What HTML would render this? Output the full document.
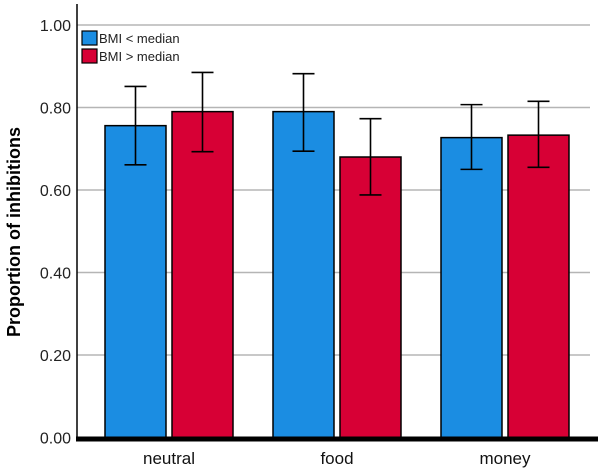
<!DOCTYPE html>
<html><head><meta charset="utf-8"><style>
body{margin:0;background:#fff;}
svg{display:block;font-family:"Liberation Sans",Arial,sans-serif;}
</style></head><body>
<svg id="chart" width="602" height="471">
<g id="grid"></g><g id="bars"></g><g id="axes"></g>
<g>
<rect x="82" y="31" width="15" height="14" fill="#1b8de2" stroke="#000" stroke-width="1.2"/>
<text x="99" y="43" font-size="13" fill="#222">BMI &lt; median</text>
<rect x="82" y="49" width="15" height="14" fill="#d70035" stroke="#000" stroke-width="1.2"/>
<text x="99" y="61" font-size="13" fill="#222">BMI &gt; median</text>
</g>
<text transform="translate(20,232) rotate(-90)" text-anchor="middle" font-size="18" font-weight="bold" fill="#000">Proportion of inhibitions</text>
</svg>
<script>
const categories=["neutral","food","money"];
const lowVals=[0.756,0.790,0.727];
const lowLo=[0.661,0.694,0.650];
const lowHi=[0.851,0.882,0.807];
const highVals=[0.790,0.680,0.733];
const highLo=[0.693,0.588,0.655];
const highHi=[0.885,0.773,0.815];
const ticks=[0,0.2,0.4,0.6,0.8,1.0];
const tickLabels=["0.00","0.20","0.40","0.60","0.80","1.00"];
const NS="http://www.w3.org/2000/svg";
const y0=437.5,pxPer=412.5,x0=77,x1=590,xEnd=598;
const yS=v=>y0-v*pxPer;
const xC=i=>169+168*i;
function mk(t,a,p){const e=document.createElementNS(NS,t);for(const k in a)e.setAttribute(k,a[k]);p.appendChild(e);return e;}
const grid=document.getElementById('grid'),bars=document.getElementById('bars'),axes=document.getElementById('axes');
ticks.forEach((t,i)=>{
 if(t>0){const l=mk('line',{x1:x0,x2:x1,y1:yS(t),y2:yS(t),stroke:'#b5b5b5','stroke-width':1.5},grid);
 
 }
 const tx=mk('text',{x:71,y:yS(t)+6,'text-anchor':'end','font-size':16,fill:'#222'},axes);
 tx.textContent=tickLabels[i];
 
 
});
const bw=61,gap=6;
categories.forEach((c,i)=>{
 const cx=xC(i);
 [[lowVals,lowLo,lowHi,'#1b8de2',cx-gap/2-bw,'low'],[highVals,highLo,highHi,'#d70035',cx+gap/2,'high']].forEach(s=>{
  const v=s[0][i];
  const r=mk('rect',{x:s[4],y:yS(v),width:bw,height:y0-yS(v),fill:s[3],stroke:'#000','stroke-width':1.5},bars);
  
  
  const mx=s[4]+bw/2;
  const g=mk('g',{stroke:'#000','stroke-width':1.6},bars);
  
  
  mk('line',{x1:mx,x2:mx,y1:yS(s[1][i]),y2:yS(s[2][i])},g);
  mk('line',{x1:mx-11,x2:mx+11,y1:yS(s[1][i]),y2:yS(s[1][i])},g);
  mk('line',{x1:mx-11,x2:mx+11,y1:yS(s[2][i]),y2:yS(s[2][i])},g);
 });
 const t=mk('text',{x:cx,y:464,'text-anchor':'middle','font-size':17,fill:'#111'},axes);
 t.textContent=c;
 
 
});
const ya=mk('line',{x1:x0,x2:x0,y1:4,y2:y0,stroke:'#000','stroke-width':1.5},axes);


const xa=mk('rect',{x:x0-1,y:y0-1,width:xEnd-x0+1,height:5,fill:'#000'},axes);


</script>
</body></html>
